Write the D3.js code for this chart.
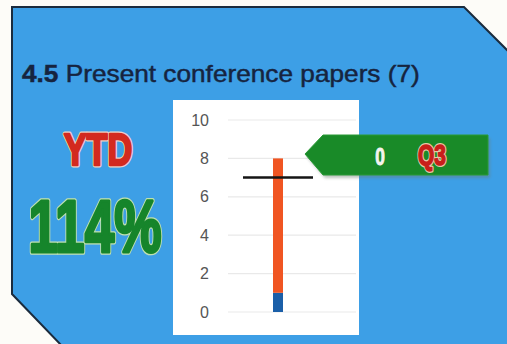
<!DOCTYPE html>
<html>
<head>
<meta charset="utf-8">
<script src="https://cdn.jsdelivr.net/npm/d3@7"></script>
<style>
  html, body { margin: 0; padding: 0; background: #fdfcf8; }
  svg { display: block; }
</style>
</head>
<body>
<svg id="chart" width="507" height="344"></svg>
<script>
// Measure 4.5 – conference papers presented (target 7)
const categories = ["Q3"];
const priorValues = [1];     // papers carried in (blue segment)
const currentValues = [7];   // papers added (orange segment)
const targetValues = [7];
const yTicks = [0, 2, 4, 6, 8, 10];
const calloutValue = "0";
const calloutPeriod = "Q3";
const ytdLabel = "YTD";
const ytdPercent = "114%";
const titleNumber = "4.5";
const titleText = "Present conference papers (7)";

const FONT = "Liberation Sans, Arial, sans-serif";
const svg = d3.select("#chart");

// Panel with clipped corners
svg.append("path")
  .attr("d", "M12,7 L464,7 L509,52 L509,346 L62,346 L12,294 Z")
  .attr("fill", "#3d9fe6")
  .attr("stroke", "#1b2b3d")
  .attr("stroke-width", 2);

// Title, stretched slightly to the wide face of the heading
const title = svg.append("text")
  .attr("transform", "translate(22,82) scale(1.14,1)")
  .attr("font-family", FONT)
  .attr("font-size", 23)
  .attr("fill", "#16243f")
  .attr("stroke", "#16243f").attr("stroke-width", 0.45);
title.append("tspan").attr("font-weight", "bold").text(titleNumber);
title.append("tspan").text(" " + titleText);

// Heavy condensed label: light halo underneath, then a thickened fill
function heavyText(str, tx, ty, sx, size, fill, halo, halfWeight) {
  const g = svg.append("g").attr("transform", `translate(${tx},${ty}) scale(${sx},1)`);
  g.append("text")
    .attr("font-family", FONT).attr("font-weight", "bold").attr("font-size", size)
    .attr("text-anchor", "middle")
    .attr("fill", halo).attr("stroke", halo)
    .attr("stroke-width", halfWeight * 2 + 2.5).attr("stroke-linejoin", "round")
    .text(str);
  g.append("text")
    .attr("font-family", FONT).attr("font-weight", "bold").attr("font-size", size)
    .attr("text-anchor", "middle")
    .attr("fill", fill).attr("stroke", fill)
    .attr("stroke-width", halfWeight * 2).attr("stroke-linejoin", "round")
    .text(str);
}

// YTD summary
heavyText(ytdLabel, 98, 165, 0.78, 44, "#d32a1f", "#efd2c4", 1.2);
heavyText(ytdPercent, 95, 252, 0.71, 75, "#16852b", "#bfe0b0", 1.6);

// Chart area
svg.append("rect")
  .attr("x", 173).attr("y", 100).attr("width", 186).attr("height", 235)
  .attr("fill", "#ffffff");

const y = d3.scaleLinear().domain([0, 10]).range([312, 120]);
const x = d3.scaleBand().domain(categories).range([243, 313]);

// Gridlines
svg.append("g").selectAll("line").data(yTicks).join("line")
  .attr("x1", 228).attr("x2", 356)
  .attr("y1", d => y(d)).attr("y2", d => y(d))
  .attr("stroke", "#e9e9e9").attr("stroke-width", 1.2);

// Y axis labels
const axis = svg.append("g")
  .attr("transform", "translate(214,0)")
  .call(d3.axisLeft(y).tickValues(yTicks).tickSize(0).tickPadding(5));
axis.select(".domain").remove();
axis.selectAll("text")
  .attr("font-family", FONT)
  .attr("font-size", 16)
  .attr("fill", "#555555");

// Stacked bar
const barW = 10;
const stackData = categories.map((c, i) => ({ cat: c, prior: priorValues[i], current: currentValues[i] }));
const stack = d3.stack().keys(["prior", "current"])(stackData);
const colors = { prior: "#1b5fa8", current: "#f05522" };
svg.append("g").selectAll("g").data(stack).join("g")
  .attr("fill", s => colors[s.key])
  .selectAll("rect").data(s => s).join("rect")
  .attr("x", d => x(d.data.cat) + x.bandwidth() / 2 - barW / 2)
  .attr("width", barW)
  .attr("y", d => y(d[1]))
  .attr("height", d => y(d[0]) - y(d[1]));

// Target marker
svg.append("g").selectAll("line").data(categories).join("line")
  .attr("x1", c => x(c)).attr("x2", c => x(c) + x.bandwidth())
  .attr("y1", (c, i) => y(targetValues[i])).attr("y2", (c, i) => y(targetValues[i]))
  .attr("stroke", "#151515").attr("stroke-width", 2.5);

// Quarter callout
const callout = "M305,154 L323,135 L488,135 L488,175 L323,175 Z";
svg.append("path")
  .attr("d", callout)
  .attr("transform", "translate(2,3)")
  .attr("fill", "#6b7a6e").attr("opacity", 0.45)
  .style("filter", "blur(1.5px)");
svg.append("path")
  .attr("d", callout)
  .attr("fill", "#198a28")
  .attr("stroke", "#2a9a36").attr("stroke-width", 1);

heavyText(calloutValue, 380, 165, 0.72, 24, "#f4f4ee", "#198a28", 0.5);
heavyText(calloutPeriod, 432, 165, 0.72, 29, "#c81f1a", "#e8c8a8", 0.8);
</script>
</body>
</html>
